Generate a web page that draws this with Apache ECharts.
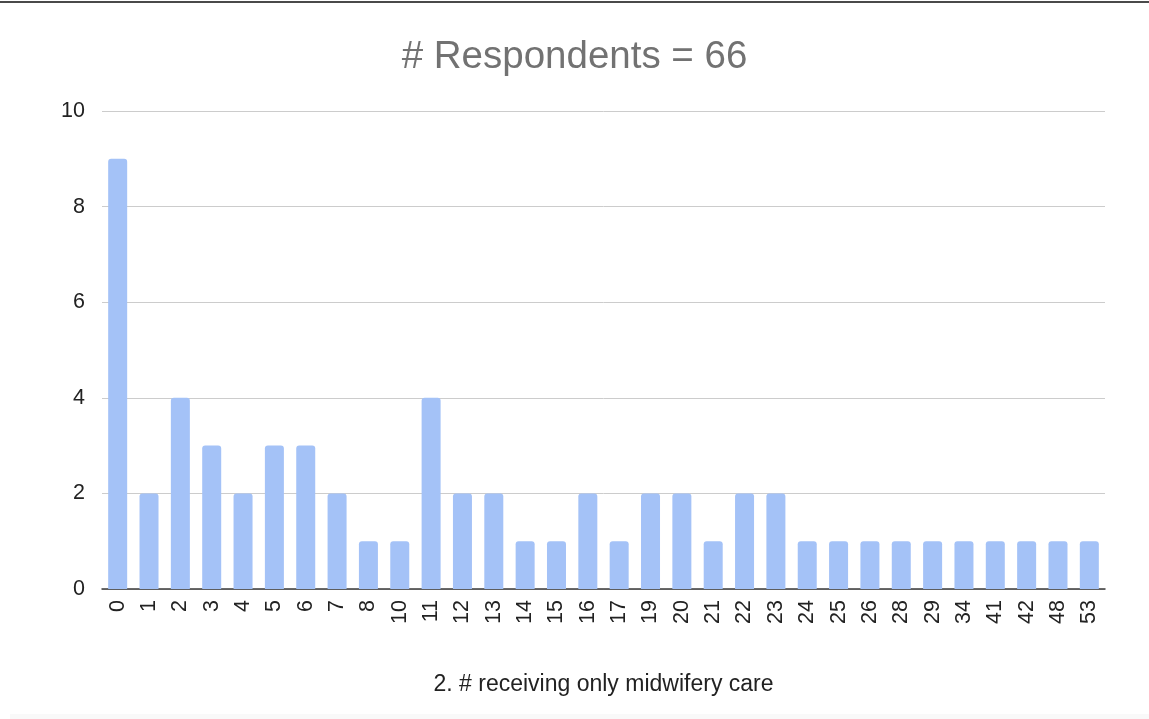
<!DOCTYPE html>
<html>
<head>
<meta charset="utf-8">
<script src="https://cdn.jsdelivr.net/npm/echarts@6/dist/echarts.min.js"></script>
<style>
html,body{margin:0;padding:0;background:#fff;}
#chart{width:1149px;height:719px;}
</style>
</head>
<body>
<div id="chart"></div>
<script>
const categories = ['0','1','2','3','4','5','6','7','8','10','11','12','13','14','15','16','17','19','20','21','22','23','24','25','26','28','29','34','41','42','48','53'];
const counts = [9,2,4,3,2,3,3,2,1,1,4,2,2,1,1,2,1,2,2,1,2,2,1,1,1,1,1,1,1,1,1,1];
const yTicks = {min: 0, max: 10, interval: 2};
const titleText = '# Respondents = 66';
const xAxisName = '2. # receiving only midwifery care';

const FONT = '"Liberation Sans", Arial, sans-serif';
const chart = echarts.init(document.getElementById('chart'), null, {renderer: 'canvas'});
chart.setOption({
  backgroundColor: '#ffffff',
  animation: false,
  title: {
    text: titleText,
    left: 'center',
    top: 33,
    textStyle: {fontFamily: FONT, fontSize: 38.5, fontWeight: 'normal', color: '#727272'}
  },
  grid: {left: 102, right: 44, top: 111, bottom: 130, containLabel: false},
  xAxis: {
    type: 'category',
    data: categories,
    name: xAxisName,
    nameLocation: 'middle',
    nameGap: 84,
    nameTextStyle: {fontFamily: FONT, fontSize: 23, color: '#222'},
    axisTick: {show: false},
    axisLine: {lineStyle: {color: '#3a3a3a', width: 1.5}},
    axisLabel: {rotate: 90, interval: 0, margin: 11, fontFamily: FONT, fontSize: 21.5, color: '#222'}
  },
  yAxis: {
    type: 'value',
    min: yTicks.min, max: yTicks.max, interval: yTicks.interval,
    axisLine: {show: false},
    axisTick: {show: false},
    splitLine: {lineStyle: {color: '#cccccc', width: 1}},
    axisLabel: {margin: 17, fontFamily: FONT, fontSize: 21.5, color: '#222'}
  },
  series: [{
    type: 'bar',
    data: counts,
    barWidth: 19,
    itemStyle: {color: '#a4c2f7', borderRadius: [3,3,0,0]}
  }],
  graphic: [
    {type: 'rect', left: 0, top: 1, shape: {width: 1149, height: 2}, style: {fill: '#4a4a4a'}, silent: true},
    {type: 'rect', left: 10, top: 714, shape: {width: 1139, height: 5}, style: {fill: '#f9f9f9'}, silent: true}
  ]
});
</script>
</body>
</html>
